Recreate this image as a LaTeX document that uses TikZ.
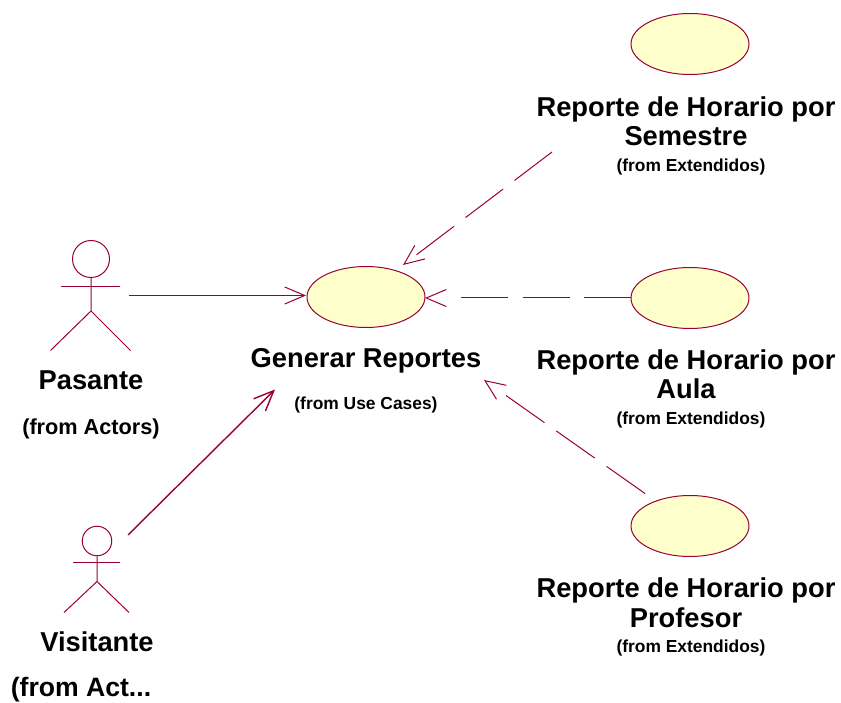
\documentclass[tikz,border=0pt]{standalone}
\usepackage{fontspec}
\setmainfont{Liberation Sans}
\usetikzlibrary{arrows.meta, shapes.geometric}
\definecolor{rosered}{HTML}{990033}
\definecolor{rosefill}{HTML}{FFFFCC}
\tikzstyle{usecase} = [ellipse, minimum width=118pt, minimum height=61pt, inner sep=0pt, draw=rosered, fill=rosefill, line width=1pt]
\tikzstyle{bigtext} = [inner sep=0pt, text centered, font=\bfseries\fontsize{27.3}{29.5}\selectfont]
\tikzstyle{midtext} = [inner sep=0pt, text centered, font=\bfseries\fontsize{21.7}{26}\selectfont]
\tikzstyle{smalltext} = [inner sep=0pt, text centered, font=\bfseries\fontsize{17.4}{20}\selectfont]
\tikzstyle{limb} = [draw=rosered, line width=1pt]
\tikzstyle{arrow} = [draw=rosered, line width=1pt, -{Straight Barb[length=20pt, width=17pt]}]
\tikzstyle{extendarrow} = [arrow, dash pattern=on 47pt off 14.5pt on 47pt off 14.5pt on 47pt off 60pt]
\begin{document}
\begin{tikzpicture}[x=1pt, y=-1pt]
\useasboundingbox (0,0) rectangle (841,703);

\node (generar) [usecase] at (366,297) {};
\node (semestre) [usecase] at (690,44) {};
\node (aula) [usecase] at (690,298) {};
\node (profesor) [usecase] at (690,526) {};

\node (generartext) [bigtext] at (366,360.5) {Generar Reportes};
\node (generarfrom) [smalltext] at (366,405) {(from Use Cases)};
\node (semestretext) [bigtext, align=center] at (686,121) {Reporte de Horario por\\Semestre};
\node (semestrefrom) [smalltext] at (691,167) {(from Extendidos)};
\node (aulatext) [bigtext, align=center] at (686,374) {Reporte de Horario por\\Aula};
\node (aulafrom) [smalltext] at (691,420) {(from Extendidos)};
\node (profesortext) [bigtext, align=center] at (686,602.5) {Reporte de Horario por\\Profesor};
\node (profesorfrom) [smalltext] at (691,648) {(from Extendidos)};

% actor Pasante
\node (pasantehead) [circle, minimum size=37pt, inner sep=0pt, limb] at (91,259) {};
\draw [limb] (pasantehead.south) -- (91,311) -- (50.5,350.5);
\draw [limb] (91,311) -- (130.5,350.5);
\draw [limb] (61,286.5) -- (120,286.5);
\node (pasantetext) [bigtext] at (91,380) {Pasante};
\node (pasantefrom) [midtext] at (91,429) {(from Actors)};

% actor Visitante
\node (visitantehead) [circle, minimum size=29.5pt, inner sep=0pt, limb] at (97,541) {};
\draw [limb] (visitantehead.south) -- (97,581.5) -- (64,612.5);
\draw [limb] (97,581.5) -- (129,612.5);
\draw [limb] (73,562) -- (120,562);
\node (visitantetext) [bigtext] at (97,642) {Visitante};
\node (visitantefrom) [bigtext, font=\bfseries\fontsize{26.6}{30}\selectfont] at (81,690) {(from Act...};

\coordinate (pasanteout) at (129,295.5);
\coordinate (generarleft) at (306,295.5);
\coordinate (visitanteout) at (128,535);
\coordinate (generarbottom) at (275,389.5);
\coordinate (semestreout) at (552,152);
\coordinate (generartop) at (403,265);
\coordinate (aulaout) at (631,298);
\coordinate (generarright) at (425,298);
\coordinate (profesorout) at (645,493.5);
\coordinate (generarlow) at (484,380);

\draw [arrow] (pasanteout) -- (generarleft);
\draw [arrow, line width=1.4pt] (visitanteout) -- (generarbottom);
\draw [extendarrow] (semestreout) -- (generartop);
\draw [extendarrow] (aulaout) -- (generarright);
\draw [extendarrow] (profesorout) -- (generarlow);
\end{tikzpicture}
\end{document}
